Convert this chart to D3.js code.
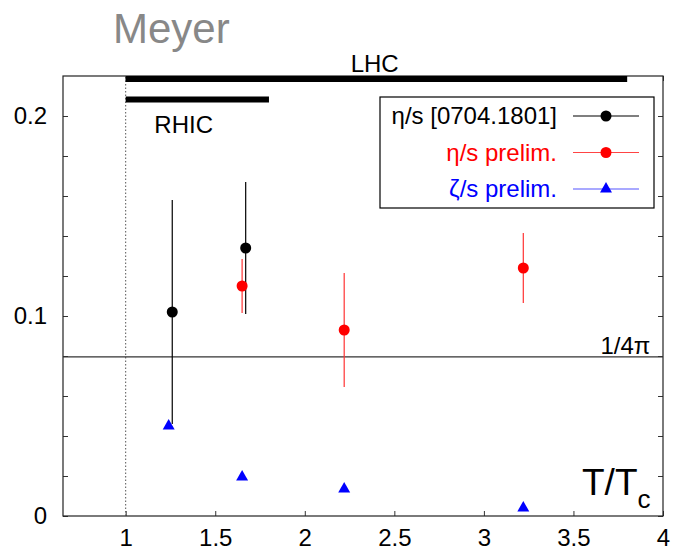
<!DOCTYPE html>
<html>
<head>
<meta charset="utf-8">
<script src="https://cdn.jsdelivr.net/npm/d3@7"></script>
<style>
    body { margin: 0; background: #fff; }
    text { font-family: "Liberation Sans", Arial, sans-serif; }
</style>
</head>
<body>
<div id="chart"></div>
<script>
// data
const etaOldT   = [1.26, 1.67];
const etaOld    = [0.102, 0.134];
const etaOldErr = [0.056, 0.033];

const etaPrelimT   = [1.65, 2.22, 3.22];
const etaPrelim    = [0.115, 0.093, 0.124];
const etaPrelimErr = [0.0135, 0.0285, 0.0175];

const zetaT = [1.24, 1.65, 2.22, 3.22];
const zeta  = [0.045, 0.0195, 0.0135, 0.004];

const xTicks = [1, 1.5, 2, 2.5, 3, 3.5, 4];
const yTicks = [0, 0.02, 0.04, 0.06, 0.08, 0.1, 0.12, 0.14, 0.16, 0.18, 0.2];
const yLabels = [0, 0.1, 0.2];

// collider temperature ranges
const colliders = [
    {name: "LHC",  from: 1, to: 3.8, y: 0.2185},
    {name: "RHIC", from: 1, to: 1.8, y: 0.2082}
];
const kss = 1 / (4 * Math.PI);

const W = 673, H = 552;
const margin = {top: 76, right: 10, bottom: 36, left: 63};

const svg = d3.select("#chart").append("svg")
    .attr("width", W)
    .attr("height", H);

const x = d3.scaleLinear().domain([0.65, 4]).range([margin.left, W - margin.right]);
const y = d3.scaleLinear().domain([0, 0.22]).range([H - margin.bottom, margin.top]);

const x0 = x.range()[0], x1 = x.range()[1];
const yB = y.range()[0], yT = y.range()[1];

// axes, ticks pointing inward on all four sides
const fmtY = d => yLabels.some(v => Math.abs(v - d) < 1e-9) ? d3.format("")(+d.toFixed(2)) : "";

const gLeft = svg.append("g")
    .attr("transform", `translate(${x0},0)`)
    .call(d3.axisLeft(y).tickValues(yTicks).tickSize(-5).tickPadding(16).tickFormat(fmtY));
const gRight = svg.append("g")
    .attr("transform", `translate(${x1},0)`)
    .call(d3.axisRight(y).tickValues(yTicks).tickSize(-5).tickFormat(""));
const gBottom = svg.append("g")
    .attr("transform", `translate(0,${yB})`)
    .call(d3.axisBottom(x).tickValues(xTicks).tickSize(-5).tickPadding(13).tickFormat(d3.format("")));
const gTop = svg.append("g")
    .attr("transform", `translate(0,${yT})`)
    .call(d3.axisTop(x).tickValues(xTicks).tickSize(-5).tickFormat(""));

[gLeft, gRight, gBottom, gTop].forEach(g => {
    g.select(".domain").remove();
    g.selectAll(".tick line").attr("stroke", "#333");
    g.selectAll(".tick text")
        .attr("fill", "#000")
        .style("font-size", "24px")
        .style("font-family", "'Liberation Sans', Arial, sans-serif");
});

// frame
svg.append("rect")
    .attr("x", x0).attr("y", yT)
    .attr("width", x1 - x0).attr("height", yB - yT)
    .attr("fill", "none")
    .attr("stroke", "#222")
    .attr("stroke-width", 1.2);

// T = Tc dotted line
svg.append("line")
    .attr("x1", x(1)).attr("x2", x(1))
    .attr("y1", yB).attr("y2", yT)
    .attr("stroke", "#555")
    .attr("stroke-width", 1)
    .attr("stroke-dasharray", "1.5,2");

// KSS bound
svg.append("line")
    .attr("x1", x0).attr("x2", x1)
    .attr("y1", y(kss)).attr("y2", y(kss))
    .attr("stroke", "#333")
    .attr("stroke-width", 1.2);
svg.append("text")
    .attr("x", x(3.79)).attr("y", y(kss) - 3)
    .attr("text-anchor", "middle")
    .style("font-size", "24px")
    .text("1/4π");

// collider ranges
svg.selectAll(".collider")
    .data(colliders)
    .enter()
    .append("line")
    .attr("class", "collider")
    .attr("x1", d => x(d.from)).attr("x2", d => x(d.to))
    .attr("y1", d => y(d.y)).attr("y2", d => y(d.y))
    .attr("stroke", "#000")
    .attr("stroke-width", 6);

svg.append("text")
    .attr("x", x(2.39)).attr("y", 72)
    .attr("text-anchor", "middle")
    .style("font-size", "24px")
    .text("LHC");
svg.append("text")
    .attr("x", x(1.16)).attr("y", 133)
    .attr("text-anchor", "start")
    .style("font-size", "24px")
    .text("RHIC");

// title
svg.append("text")
    .attr("x", 113).attr("y", 43)
    .attr("fill", "#888")
    .style("font-size", "42px")
    .text("Meyer");

// axis label
const xl = svg.append("text")
    .attr("x", 582).attr("y", 495)
    .style("font-size", "37px");
xl.append("tspan").text("T/T");
xl.append("tspan").attr("dy", 13).style("font-size", "26px").text("c");

// error bars + points
function drawSeries(ts, vals, errs, color, barColor) {
    const data = ts.map((t, i) => ({t: t, v: vals[i], e: errs[i]}));
    svg.selectAll(null)
        .data(data)
        .enter()
        .append("line")
        .attr("x1", d => x(d.t)).attr("x2", d => x(d.t))
        .attr("y1", d => y(d.v - d.e)).attr("y2", d => y(d.v + d.e))
        .attr("stroke", barColor)
        .attr("stroke-width", 1.2);
    svg.selectAll(null)
        .data(data)
        .enter()
        .append("circle")
        .attr("cx", d => x(d.t)).attr("cy", d => y(d.v))
        .attr("r", 5.5)
        .attr("fill", color);
}
drawSeries(etaOldT, etaOld, etaOldErr, "#000", "#000");
drawSeries(etaPrelimT, etaPrelim, etaPrelimErr, "#f00", "#f33");

const tri = d3.symbol().type(d3.symbolTriangle).size(62);
svg.selectAll(".zeta")
    .data(zetaT.map((t, i) => ({t: t, v: zeta[i]})))
    .enter()
    .append("path")
    .attr("class", "zeta")
    .attr("d", tri)
    .attr("transform", d => `translate(${x(d.t)},${y(d.v)})`)
    .attr("fill", "#00f");

// legend
const legend = svg.append("g");
legend.append("rect")
    .attr("x", 380).attr("y", 97)
    .attr("width", 274).attr("height", 111)
    .attr("fill", "#fff")
    .attr("stroke", "#000")
    .attr("stroke-width", 1.2);

const legendItems = [
    {label: "η/s [0704.1801]", color: "#000", line: "#000", marker: "circle"},
    {label: "η/s prelim.",     color: "#f00", line: "#f44", marker: "circle"},
    {label: "ζ/s prelim.",     color: "#00f", line: "#55f", marker: "triangle"}
];

legendItems.forEach((d, i) => {
    let cy = 116 + i * 36.5;
    legend.append("text")
        .attr("x", 557).attr("y", cy + 8)
        .attr("text-anchor", "end")
        .attr("fill", d.color)
        .style("font-size", "24px")
        .text(d.label);
    legend.append("line")
        .attr("x1", 573).attr("x2", 639)
        .attr("y1", cy).attr("y2", cy)
        .attr("stroke", d.line)
        .attr("stroke-width", 1.2);
    if (d.marker === "circle") {
        legend.append("circle")
            .attr("cx", 606).attr("cy", cy).attr("r", 5.5)
            .attr("fill", d.color);
    } else {
        legend.append("path")
            .attr("d", tri)
            .attr("transform", `translate(606,${cy})`)
            .attr("fill", d.color);
    }
});
</script>
</body>
</html>
